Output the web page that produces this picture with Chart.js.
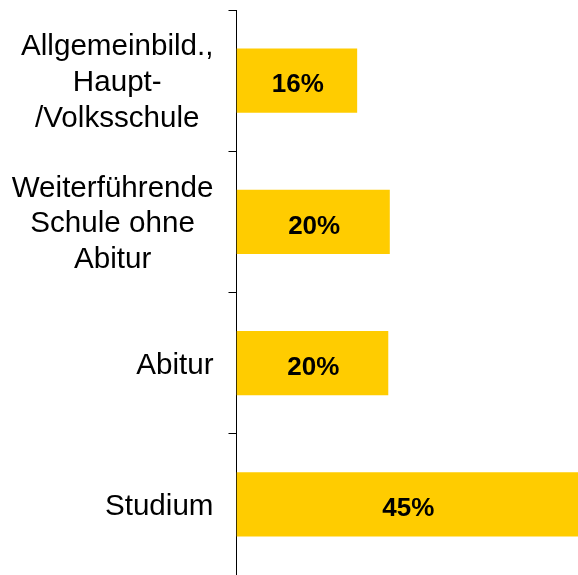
<!DOCTYPE html>
<html>
<head>
<meta charset="utf-8">
<script src="https://cdn.jsdelivr.net/npm/chart.js@4.4.0/dist/chart.umd.min.js"></script>
<style>
  html, body { margin: 0; padding: 0; background: #fff; }
  #wrap { width: 578px; height: 575px; }
</style>
</head>
<body>
<div id="wrap"><canvas id="eduChart" width="578" height="575"></canvas></div>
<script>
// Data
const categories = [
    ['Allgemeinbild.,', 'Haupt-', '/Volksschule'],
    ['Weiterführende', 'Schule ohne', 'Abitur'],
    'Abitur',
    'Studium'
];
const shares = [15.9, 20.2, 20.0, 45];

const labelFont = '29.6px "Liberation Sans", Arial, sans-serif';
const labelLine = 35.8;

// Category labels: block right-aligned against the axis, lines centred inside the block
const categoryLabels = {
    id: 'categoryLabels',
    afterDraw(chart) {
        const ctx = chart.ctx;
        const scale = chart.scales.y;
        const right = scale.right - 8 - 15;
        ctx.save();
        ctx.font = labelFont;
        ctx.fillStyle = '#000';
        ctx.textAlign = 'center';
        ctx.textBaseline = 'alphabetic';
        categories.forEach((label, i) => {
            const lines = Array.isArray(label) ? label : [label];
            const widest = Math.max(...lines.map(l => ctx.measureText(l).width));
            const cx = right - widest / 2;
            const cy = scale.getPixelForTick(i);
            lines.forEach((line, j) => {
                const y = cy + (j - (lines.length - 1) / 2) * labelLine + 10.6;
                ctx.fillText(line, cx, y);
            });
        });
        ctx.restore();
    }
};

// Draws the rounded percentage in the middle of each bar
const barLabels = {
    id: 'barLabels',
    afterDatasetsDraw(chart) {
        const ctx = chart.ctx;
        const meta = chart.getDatasetMeta(0);
        ctx.save();
        ctx.font = 'bold 26px "Liberation Sans", Arial, sans-serif';
        ctx.fillStyle = '#000';
        ctx.textAlign = 'center';
        ctx.textBaseline = 'alphabetic';
        meta.data.forEach((bar, i) => {
            const p = bar.getCenterPoint();
            ctx.fillText(Math.round(shares[i]) + '%', p.x + 1, p.y + 11.8);
        });
        ctx.restore();
    }
};

const ctx = document.getElementById('eduChart').getContext('2d');
const eduChart = new Chart(ctx, {
    type: 'bar',
    data: {
        labels: categories,
        datasets: [{
            data: shares,
            backgroundColor: '#FFCC00',
            borderWidth: 0,
            barPercentage: 0.455,
            categoryPercentage: 1
        }]
    },
    options: {
        indexAxis: 'y',
        responsive: false,
        animation: false,
        layout: {
            padding: { top: 10, right: 0, bottom: -1, left: 0 }
        },
        scales: {
            x: {
                display: false,
                min: 0,
                max: 45
            },
            y: {
                afterFit: function(scale) {
                    // fixed axis position, no extra room for the tall labels
                    scale.width = 236.5;
                    scale.paddingTop = 0;
                    scale.paddingBottom = 0;
                },
                border: {
                    display: true,
                    color: '#000',
                    width: 1
                },
                grid: {
                    offset: true,
                    drawOnChartArea: false,
                    drawTicks: true,
                    tickLength: 8,
                    color: '#000',
                    lineWidth: 1
                },
                ticks: {
                    display: false
                }
            }
        },
        plugins: {
            legend: { display: false },
            tooltip: { enabled: false }
        }
    },
    plugins: [categoryLabels, barLabels]
});
</script>
</body>
</html>
